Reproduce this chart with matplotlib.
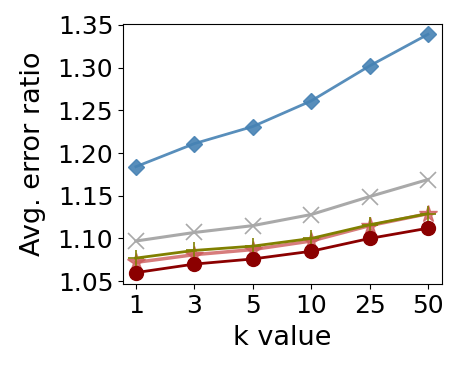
import matplotlib
matplotlib.use("Agg")
import matplotlib.pyplot as plt

k_labels = ["1", "3", "5", "10", "25", "50"]
blue_diamond = [1.184, 1.211, 1.231, 1.261, 1.302, 1.339]
gray_x = [1.097, 1.107, 1.115, 1.128, 1.149, 1.169]
olive_plus = [1.077, 1.086, 1.091, 1.100, 1.116, 1.129]
red_star = [1.072, 1.081, 1.087, 1.097, 1.115, 1.129]
darkred_circle = [1.060, 1.070, 1.076, 1.085, 1.100, 1.112]

fig = plt.figure(figsize=(4.59, 3.70), dpi=100)
ax = fig.add_axes([0.268, 0.232, 0.695, 0.703])
x = list(range(len(k_labels)))

ax.plot(x, blue_diamond, color="steelblue", marker="D", markersize=8, linewidth=2, alpha=0.9)
ax.plot(x, gray_x, color="darkgray", marker="x", markersize=11, markeredgewidth=1.2, linewidth=2.2)
ax.plot(x, red_star, color="indianred", marker="*", markersize=13, linewidth=2.5, alpha=0.8)
ax.plot(x, olive_plus, color="olive", marker="+", markersize=11, markeredgewidth=1.2, linewidth=2)
ax.plot(x, darkred_circle, color="darkred", marker="o", markersize=10, linewidth=2)

ax.set_xticks(x)
ax.set_xticklabels(k_labels)
ax.set_yticks([1.05, 1.10, 1.15, 1.20, 1.25, 1.30, 1.35])
ax.set_ylim(1.0465, 1.351)
ax.set_xlim(-0.22, 5.24)
ax.tick_params(labelsize=18)
ax.set_xlabel("k value", fontsize=19.5, labelpad=5)
ax.set_ylabel("Avg. error ratio", fontsize=19.5, labelpad=8)

fig.savefig("out.png", dpi=100)
